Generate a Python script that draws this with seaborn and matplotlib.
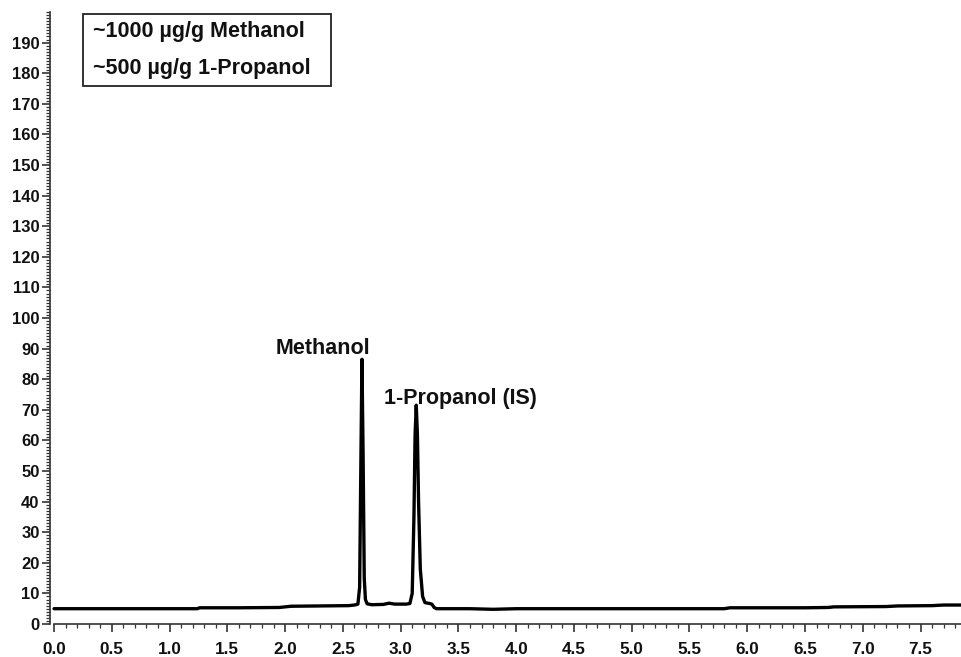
import matplotlib
matplotlib.use("Agg")
import matplotlib.pyplot as plt
import seaborn as sns
import numpy as np
import pandas as pd
from matplotlib.ticker import MultipleLocator
from matplotlib.patches import Rectangle

# Retention time (min) and detector response
time_min = [0.00, 0.50, 1.00, 1.24, 1.26, 1.60, 1.95, 2.00, 2.05, 2.30, 2.55, 2.60, 2.63, 2.645,
            2.655, 2.665, 2.675, 2.685, 2.695, 2.71, 2.75, 2.85, 2.90, 2.95, 3.05, 3.08, 3.10,
            3.115, 3.125, 3.135, 3.145, 3.155, 3.17, 3.19, 3.21, 3.25, 3.27, 3.29, 3.31, 3.60,
            3.80, 4.00, 4.50, 5.00, 5.50, 5.80, 5.85, 6.50, 6.70, 6.75, 7.20, 7.30, 7.60, 7.70, 7.90]
response = [5.0, 5.0, 5.0, 5.0, 5.3, 5.3, 5.4, 5.6, 5.8, 5.9, 6.0, 6.2, 6.5, 12.0,
            50.0, 86.5, 55.0, 15.0, 8.0, 6.6, 6.3, 6.4, 6.8, 6.5, 6.5, 6.7, 10.0,
            35.0, 62.0, 71.5, 62.0, 40.0, 18.0, 9.0, 7.0, 6.7, 6.5, 5.4, 5.0, 5.0,
            4.8, 5.0, 5.0, 5.0, 5.0, 5.0, 5.3, 5.3, 5.4, 5.6, 5.7, 5.9, 6.0, 6.2, 6.2]

peak_names = ["Methanol", "1-Propanol (IS)"]
peak_label_x = [2.325, 3.52]
peak_label_y = [88.2, 71.9]
legend_lines = ["~1000 µg/g Methanol", "~500 µg/g 1-Propanol"]

sns.set_style("ticks")
plt.rcParams['font.family'] = ['Liberation Sans', 'DejaVu Sans']
plt.rcParams['font.weight'] = 'bold'

fig = plt.figure(figsize=(9.61, 6.57), dpi=100)
W, H = 961, 657
ax = fig.add_axes([50 / W, 33 / H, (961 - 50) / W, (624 - 12) / H])

df = pd.DataFrame({"t": time_min, "r": response})
sns.lineplot(data=df, x="t", y="r", ax=ax, color="black", linewidth=2.4, sort=False)

ax.set_xlim(-0.035, 7.85)
ax.set_ylim(0, 200)
ax.set_xlabel("")
ax.set_ylabel("")
for s in ["top", "right"]:
    ax.spines[s].set_visible(False)
for s in ["left", "bottom"]:
    ax.spines[s].set_linewidth(1.2)
    ax.spines[s].set_color("#333333")
ax.spines["bottom"].set_bounds(0, 7.85)

ax.xaxis.set_minor_locator(MultipleLocator(0.1))
ax.yaxis.set_minor_locator(MultipleLocator(1))
ax.set_yticks(np.arange(0, 200, 10))
ax.set_xticks(np.arange(0, 8.0, 0.5))
ax.set_xticklabels([f"{v:.1f}" for v in np.arange(0, 8.0, 0.5)])
ax.tick_params(axis="both", which="major", length=6, width=1.2, color="#333333")
ax.tick_params(axis="both", which="minor", length=3, width=0.9, color="#333333")
ax.tick_params(axis="x", pad=7, labelsize=12.3)
ax.tick_params(axis="y", pad=1.5, labelsize=12)
for lab in ax.get_xticklabels() + ax.get_yticklabels():
    lab.set_fontweight("bold")
    lab.set_color("#111111")

for name, lx, ly in zip(peak_names, peak_label_x, peak_label_y):
    ax.text(lx, ly, name, fontsize=15.5, fontweight="bold", ha="center", va="baseline",
            color="#111111")

# legend-like text box (figure pixel coordinates)
fig.patches.append(Rectangle((83 / W, 1 - 86 / H), (331 - 83) / W, (86 - 14) / H,
                             transform=fig.transFigure, fill=False, edgecolor="#222222",
                             linewidth=1.3))
for i, t in enumerate(legend_lines):
    fig.text(93 / W, 1 - (37 + 37 * i) / H, t, fontsize=15.5, fontweight="bold",
             ha="left", va="baseline", color="#111111")

fig.savefig("out.png", dpi=100)
